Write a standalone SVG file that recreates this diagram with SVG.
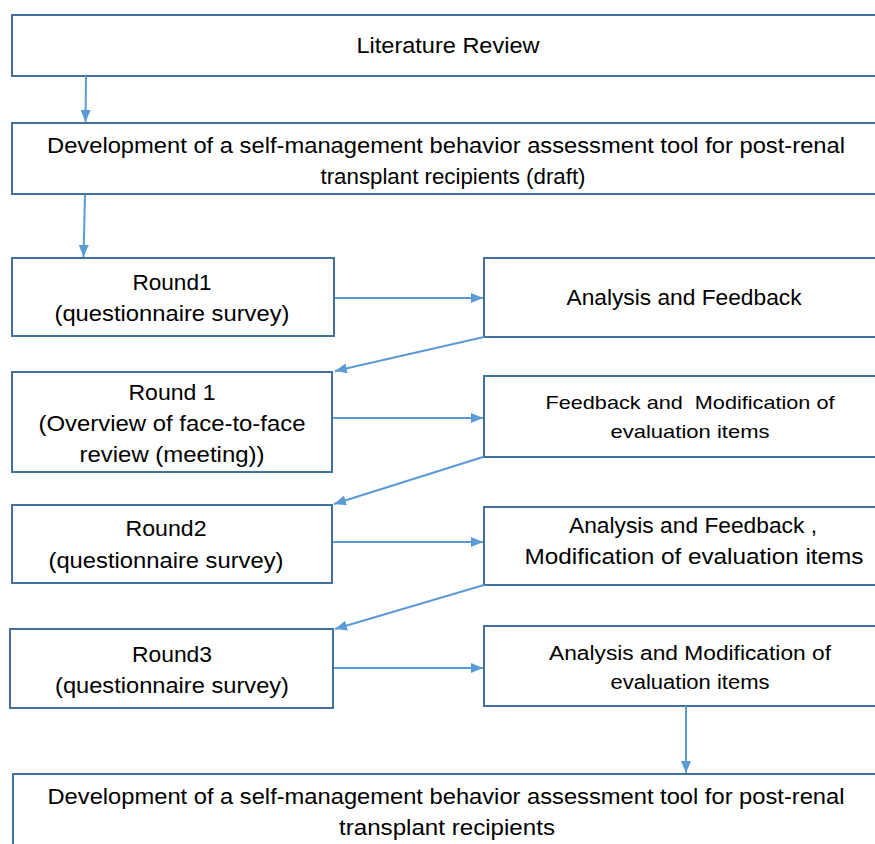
<svg xmlns="http://www.w3.org/2000/svg" width="875" height="844" viewBox="0 0 875 844">
<style>
.box{fill:#fff;stroke:#41719C;stroke-width:2}
.t{font-family:"Liberation Sans",Arial,sans-serif;font-size:22px;fill:#000;text-anchor:middle}
.s{font-size:19px}
.m{font-size:20px}
.c{stroke:#5B9BD5;stroke-width:2;fill:none;marker-end:url(#ah)}
</style>
<defs>
<marker id="ah" viewBox="0 0 12 10" refX="12" refY="5" markerWidth="12" markerHeight="10" markerUnits="userSpaceOnUse" orient="auto">
<path d="M0,0 L12,5 L0,10 Z" fill="#5B9BD5"/>
</marker>
</defs>
<rect width="875" height="844" fill="#fff"/>
<g id="n1"><rect class="box" x="12" y="15" width="870" height="61"/>
<text class="t" x="448" y="53" textLength="183" lengthAdjust="spacingAndGlyphs">Literature Review</text></g>
<g id="n2"><rect class="box" x="12" y="123" width="870" height="71"/>
<text class="t" x="446" y="153" textLength="798" lengthAdjust="spacingAndGlyphs">Development of a self-management behavior assessment tool for post-renal</text>
<text class="t" x="453" y="184" textLength="265" lengthAdjust="spacingAndGlyphs">transplant recipients (draft)</text></g>
<g id="n3"><rect class="box" x="12" y="258" width="322" height="78"/>
<text class="t" x="172" y="290" textLength="79" lengthAdjust="spacingAndGlyphs">Round1</text>
<text class="t" x="172" y="321" textLength="235" lengthAdjust="spacingAndGlyphs">(questionnaire survey)</text></g>
<g id="n4"><rect class="box" x="484" y="258" width="400" height="79"/>
<text class="t" x="684" y="305" textLength="235" lengthAdjust="spacingAndGlyphs">Analysis and Feedback</text></g>
<g id="n5"><rect class="box" x="12" y="372" width="320" height="100"/>
<text class="t" x="172" y="400" textLength="87" lengthAdjust="spacingAndGlyphs">Round 1</text>
<text class="t" x="172" y="431" textLength="267" lengthAdjust="spacingAndGlyphs">(Overview of face-to-face</text>
<text class="t" x="172" y="462" textLength="185" lengthAdjust="spacingAndGlyphs">review (meeting))</text></g>
<g id="n6"><rect class="box" x="484" y="376" width="400" height="81"/>
<text class="t s" x="690" y="409" textLength="289" lengthAdjust="spacingAndGlyphs" xml:space="preserve">Feedback and  Modification of</text>
<text class="t s" x="690" y="438" textLength="159" lengthAdjust="spacingAndGlyphs">evaluation items</text></g>
<g id="n7"><rect class="box" x="12" y="505" width="320" height="78"/>
<text class="t" x="166" y="536" textLength="81" lengthAdjust="spacingAndGlyphs">Round2</text>
<text class="t" x="166" y="568" textLength="235" lengthAdjust="spacingAndGlyphs">(questionnaire survey)</text></g>
<g id="n8"><rect class="box" x="484" y="507" width="400" height="78"/>
<text class="t" x="693" y="533" textLength="248" lengthAdjust="spacingAndGlyphs">Analysis and Feedback ,</text>
<text class="t" x="694" y="564" textLength="339" lengthAdjust="spacingAndGlyphs">Modification of evaluation items</text></g>
<g id="n9"><rect class="box" x="10" y="629" width="323" height="79"/>
<text class="t" x="172" y="662" textLength="80" lengthAdjust="spacingAndGlyphs">Round3</text>
<text class="t" x="172" y="693" textLength="234" lengthAdjust="spacingAndGlyphs">(questionnaire survey)</text></g>
<g id="n10"><rect class="box" x="484" y="626" width="400" height="80"/>
<text class="t m" x="690" y="660" textLength="282" lengthAdjust="spacingAndGlyphs">Analysis and Modification of</text>
<text class="t m" x="690" y="689" textLength="159" lengthAdjust="spacingAndGlyphs">evaluation items</text></g>
<g id="n11"><rect class="box" x="13" y="774" width="870" height="90"/>
<text class="t" x="446" y="804" textLength="797" lengthAdjust="spacingAndGlyphs">Development of a self-management behavior assessment tool for post-renal</text>
<text class="t" x="447" y="835" textLength="216" lengthAdjust="spacingAndGlyphs">transplant recipients</text></g>
<g id="connectors">
<path class="c" d="M86,76 L85.5,122"/>
<path class="c" d="M85,195 L83.5,257"/>
<path class="c" d="M335,298 L483,298"/>
<path class="c" d="M484,337 L335,371"/>
<path class="c" d="M333,418 L483,418"/>
<path class="c" d="M483,457 L334,504"/>
<path class="c" d="M333,542 L483,542"/>
<path class="c" d="M484,585 L335,629"/>
<path class="c" d="M334,668 L483,668"/>
<path class="c" d="M686,706 L686,773"/>
</g>
</svg>
